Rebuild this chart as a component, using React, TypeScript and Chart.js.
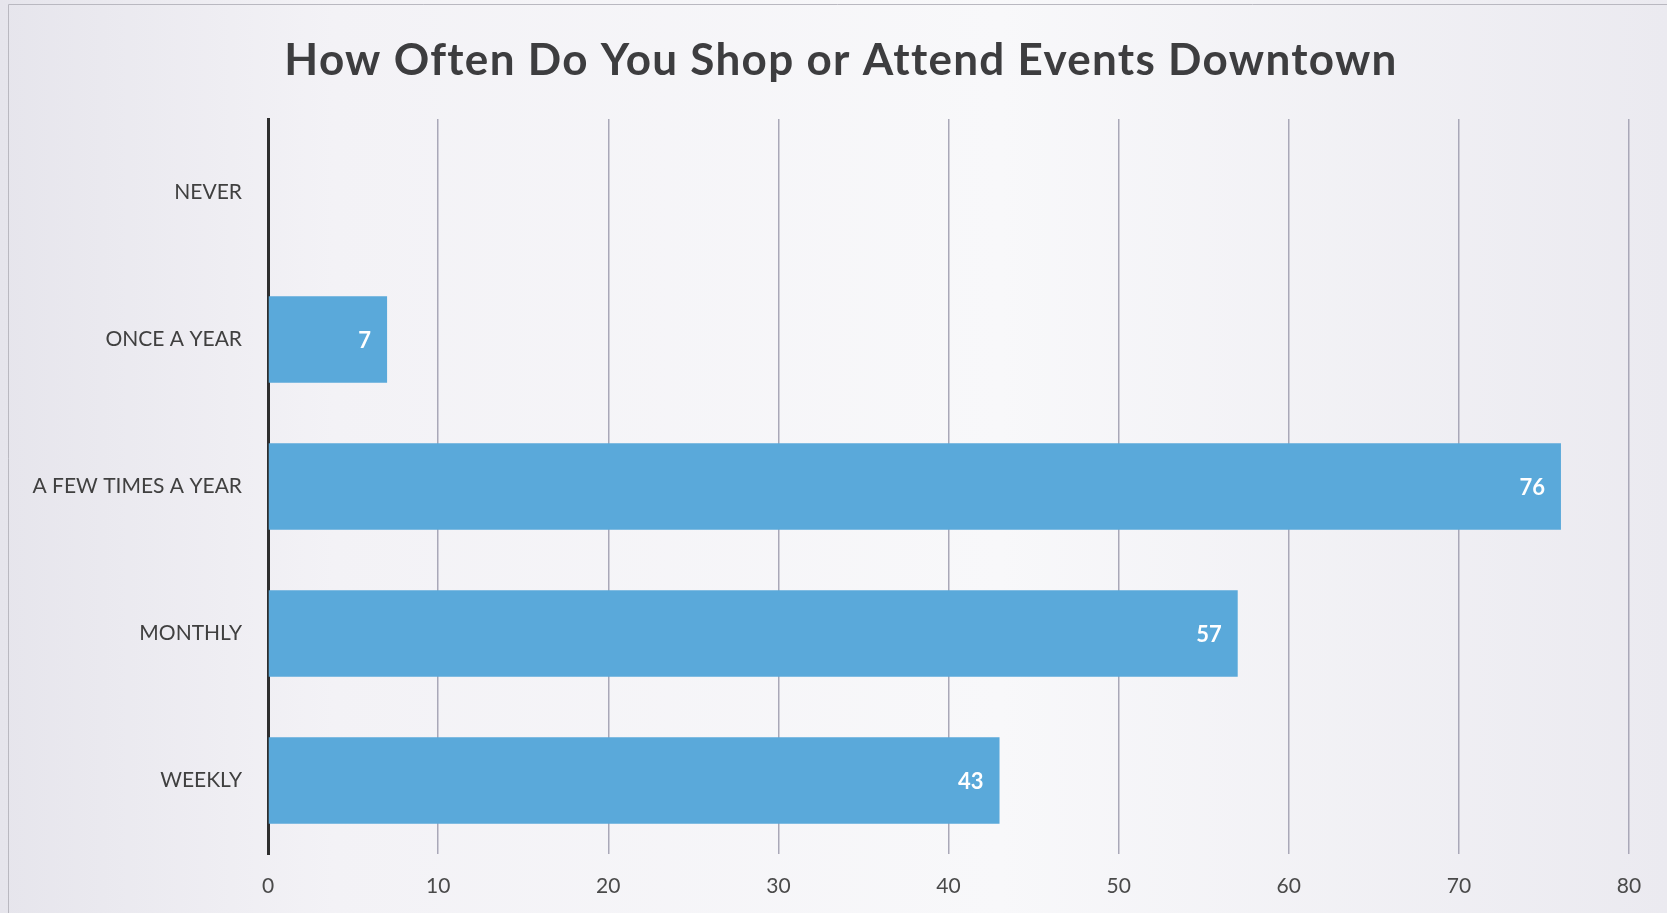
import React, { useEffect, useRef } from "react";
import { Chart, registerables } from "chart.js";

Chart.register(...registerables);

const categories = ["NEVER", "ONCE A YEAR", "A FEW TIMES A YEAR", "MONTHLY", "WEEKLY"];
const values = [0, 7, 76, 57, 43];
const xTicks = [0, 10, 20, 30, 40, 50, 60, 70, 80];
const titleText = "How Often Do You Shop or Attend Events Downtown";

const FONT = "Lato, 'Open Sans', sans-serif";

const bgPlugin = {
  id: "bg",
  beforeDraw(chart: any) {
    const { ctx, width, height } = chart;
    ctx.save();
    const g = ctx.createLinearGradient(0, 0, width, 0);
    g.addColorStop(0, "#e6e5ec");
    g.addColorStop(0.2, "#f3f2f6");
    g.addColorStop(0.6, "#f8f8fa");
    g.addColorStop(1, "#ebeaf0");
    ctx.fillStyle = g;
    ctx.fillRect(0, 0, width, height);
    ctx.strokeStyle = "#b9b8c0";
    ctx.lineWidth = 1;
    ctx.beginPath();
    ctx.moveTo(8.5, height);
    ctx.lineTo(8.5, 4.5);
    ctx.lineTo(width, 4.5);
    ctx.stroke();
    ctx.restore();
  },
};

const titlePlugin = {
  id: "customTitle",
  afterDraw(chart: any) {
    const { ctx } = chart;
    ctx.save();
    ctx.font = `bold 44px ${FONT}`;
    (ctx as any).letterSpacing = "1.3px";
    ctx.fillStyle = "#3d3d3f";
    ctx.textAlign = "center";
    ctx.textBaseline = "alphabetic";
    ctx.fillText(titleText, 841, 75);
    ctx.restore();
  },
};

const labelPlugin = {
  id: "barLabels",
  afterDatasetsDraw(chart: any) {
    const { ctx } = chart;
    const meta = chart.getDatasetMeta(0);
    ctx.save();
    ctx.font = `bold 22px ${FONT}`;
    ctx.fillStyle = "#ffffff";
    ctx.textAlign = "right";
    ctx.textBaseline = "middle";
    meta.data.forEach((bar: any, i: number) => {
      const v = values[i];
      if (!v) return;
      ctx.fillText(String(v), bar.x - 16, bar.y + 1);
    });
    ctx.restore();
  },
};

export default function App() {
  const ref = useRef<HTMLCanvasElement>(null);
  useEffect(() => {
    if (!ref.current) return;
    const chart = new Chart(ref.current, {
      type: "bar",
      data: {
        labels: categories,
        datasets: [
          {
            data: values,
            backgroundColor: "#5aa9da",
            borderWidth: 0,
            categoryPercentage: 1,
            barPercentage: 0.59,
          },
        ],
      },
      options: {
        indexAxis: "y",
        animation: false,
        responsive: false,
        maintainAspectRatio: false,
        layout: { padding: { left: 0, right: 38, top: 119, bottom: 0 } },
        plugins: {
          legend: { display: false },
          tooltip: { enabled: false },
          title: { display: false },
        },
        scales: {
          x: {
            min: 0,
            max: 80,
            afterBuildTicks(scale: any) {
              scale.ticks = xTicks.map((v) => ({ value: v }));
            },
            afterFit(scale: any) {
              scale.height = 59;
            },
            grid: {
              display: true,
              color: "#a9a8b8",
              lineWidth: 1.5,
              drawTicks: false,
            },
            border: { display: false },
            ticks: {
              color: "#4a4a4a",
              font: { family: FONT, size: 21 },
              padding: 20,
            },
          },
          y: {
            afterFit(scale: any) {
              scale.width = 268;
            },
            grid: { display: false, drawTicks: false },
            border: { display: true, color: "#2e2e2e", width: 3 },
            ticks: {
              color: "#404040",
              font: { family: FONT, size: 21 },
              padding: 26,
            },
          },
        },
      },
      plugins: [bgPlugin, labelPlugin, titlePlugin],
    });
    return () => chart.destroy();
  }, []);
  return (
    <div style={{ position: "absolute", left: 0, top: 0, width: 1667, height: 913 }}>
      <canvas ref={ref} width={1667} height={913} style={{ display: "block" }} />
    </div>
  );
}
